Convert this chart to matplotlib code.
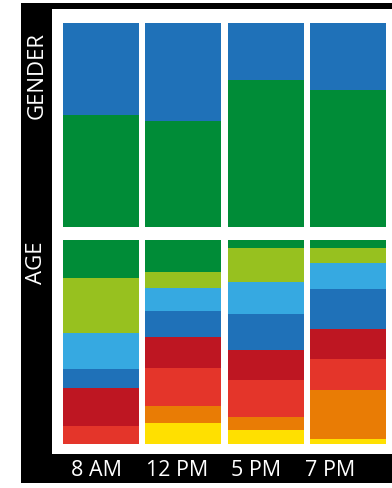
import matplotlib
matplotlib.use("Agg")
import matplotlib.pyplot as plt
from matplotlib.patches import Rectangle
import numpy as np

times = ["8 AM", "12 PM", "5 PM", "7 PM"]

# Gender shares (%), bottom to top
gender_green = [55, 52, 72, 67]
gender_blue = [45, 48, 28, 33]

# Age group shares (%), bottom to top
age_yellow = [0.0, 10.3, 6.9, 2.5]
age_orange = [0.0, 8.3, 6.4, 24.0]
age_red = [8.8, 18.6, 18.1, 15.2]
age_darkred = [18.6, 15.2, 14.7, 14.7]
age_blue = [9.3, 12.7, 17.6, 19.6]
age_lightblue = [17.6, 11.3, 15.7, 12.7]
age_yellowgreen = [27.0, 7.8, 16.7, 7.4]
age_green = [18.6, 15.7, 3.9, 3.9]

C_GREEN = "#008C37"
C_BLUE = "#1F71B8"
C_YG = "#97C11F"
C_LB = "#36A9E1"
C_DR = "#BE1622"
C_RED = "#E4352A"
C_OR = "#E97C05"
C_YEL = "#FFE000"

W, H = 392, 489
fig = plt.figure(figsize=(W / 100, H / 100), dpi=100, facecolor="white")

def fx(px):
    return px / W

def fy(py):
    return (H - py) / H

# black frame and white panel
fig.patches.append(Rectangle((fx(20.7), fy(484)), 1.0, fy(4) - fy(484),
                             transform=fig.transFigure, facecolor="black",
                             edgecolor="none", zorder=-2))
fig.patches.append(Rectangle((fx(52), fy(455)), 1.0, fy(10) - fy(455),
                             transform=fig.transFigure, facecolor="white",
                             edgecolor="none", zorder=-1))

x = np.arange(len(times))
bw = 76 / 82.1
left = fx(63.3)
width = fx(385.7) - left

ax1 = fig.add_axes([left, fy(228), width, fy(24) - fy(228)])
ax2 = fig.add_axes([left, fy(445), width, fy(241) - fy(445)])

for ax in (ax1, ax2):
    ax.set_zorder(5)
    ax.set_facecolor("none")
    ax.set_xlim(-bw / 2, len(times) - 1 + bw / 2)
    ax.set_ylim(0, 100)
    for s in ax.spines.values():
        s.set_visible(False)
    ax.set_yticks([])

ax1.bar(x, gender_green, width=bw, color=C_GREEN, linewidth=0)
ax1.bar(x, gender_blue, width=bw, bottom=gender_green, color=C_BLUE, linewidth=0)
ax1.set_xticks([])

series = [(age_yellow, C_YEL), (age_orange, C_OR), (age_red, C_RED),
          (age_darkred, C_DR), (age_blue, C_BLUE), (age_lightblue, C_LB),
          (age_yellowgreen, C_YG), (age_green, C_GREEN)]
bottom = np.zeros(len(times))
for vals, col in series:
    v = np.array(vals)
    ax2.bar(x, v, width=bw, bottom=bottom, color=col, linewidth=0)
    bottom += v
ax2.set_ylim(0, bottom.max())

tick_pos = [-0.06, 0.92, 1.89, 2.79]
ax2.set_xticks(tick_pos)
ax2.set_xticklabels(times, color="white", fontsize=15.5, family=["Open Sans", "DejaVu Sans"])
ax2.tick_params(axis="x", length=0, pad=11)

fig.text(fx(37), fy(32), "GENDER", rotation=90, color="white", fontsize=16,
         family=["Open Sans", "DejaVu Sans"], ha="center", va="top", zorder=6)
fig.text(fx(37), fy(242), "AGE", rotation=90, color="white", fontsize=16,
         family=["Open Sans", "DejaVu Sans"], ha="center", va="top", zorder=6)

fig.savefig("out.png", dpi=100, facecolor="white")
